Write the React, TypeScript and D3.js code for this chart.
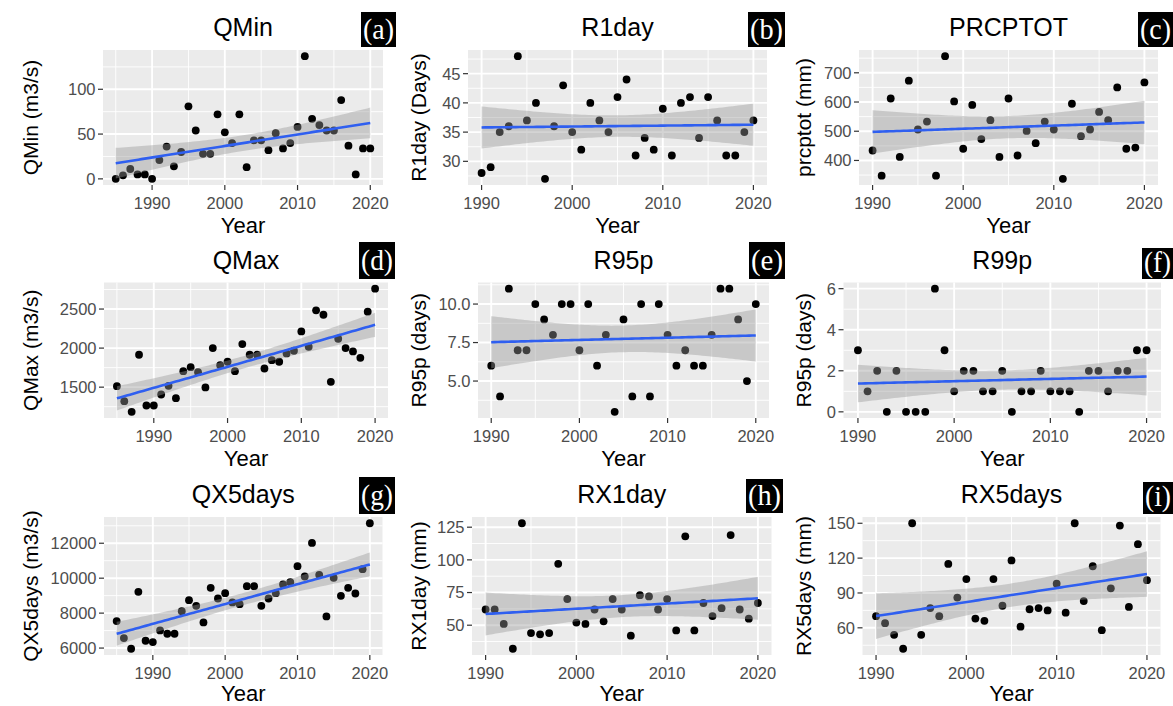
import React from 'react';
import * as d3 from 'd3';

// ---------- data ----------
const years85 = [1985,1986,1987,1988,1989,1990,1991,1992,1993,1994,1995,1996,1997,1998,1999,2000,2001,2002,2003,2004,2005,2006,2007,2008,2009,2010,2011,2012,2013,2014,2015,2016,2017,2018,2019,2020];
const years90 = [1990,1991,1992,1993,1994,1995,1996,1997,1998,1999,2000,2001,2002,2003,2004,2005,2006,2007,2008,2009,2010,2011,2012,2013,2014,2015,2016,2017,2018,2019,2020];

const qmin = [0,4,11,5,5,0,21,36,14,30,81,54,28,28,72,52,40,72,13,43,43,32,51,34,40,58,137,67,60,54,54,88,37,5,34,34];
const r1day = [28,29,35,36,48,37,40,27,36,43,35,32,40,37,35,41,44,31,34,32,39,31,40,41,34,41,37,31,31,35,37];
const prcptot = [434,348,612,412,673,506,533,348,757,602,440,590,473,538,412,612,417,501,459,533,506,337,594,483,506,566,538,650,440,444,667];
const qmax = [1513,1321,1184,1915,1265,1265,1406,1517,1359,1705,1756,1692,1496,2000,1782,1825,1705,2051,1915,1915,1739,1846,1825,1932,1966,2214,2017,2483,2427,1568,2120,2000,1957,1876,2466,2761];
const r95p = [6,4,11,7,7,10,9,8,10,10,7,10,6,8,3,9,4,10,4,10,8,6,7,6,6,8,11,11,9,5,10];
const r99p = [3,1,2,0,2,0,0,0,6,3,1,2,2,1,1,2,0,1,1,2,1,1,1,0,2,2,1,2,2,3,3];
const qx5days = [7543,6571,5962,9219,6419,6343,7010,6819,6819,8114,8743,8419,7467,9448,8838,9143,8610,8514,9543,9543,8419,8838,9143,9638,9771,10686,10095,12019,10190,7810,10019,8990,9448,9124,10514,13143];
const rx1day = [62,62,51,32,128,44,43,44,97,70,52,51,62,53,70,62,42,73,72,62,70,46,118,46,67,57,63,119,62,55,67];
const rx5days = [70,64,54,42,150,54,77,70,115,86,102,68,66,102,79,118,61,76,77,75,98,73,150,83,113,58,94,148,78,132,101];

const xTicks = [1990, 2000, 2010, 2020];
const titles = ['QMin','R1day','PRCPTOT','QMax','R95p','R99p','QX5days','RX1day','RX5days'];
const yLabels = ['QMin (m3/s)','R1day (Days)','prcptot (mm)','QMax (m3/s)','R95p (days)','R95p (days)','QX5days (m3/s)','RX1day (mm)','RX5days (mm)'];
const tags = ['(a)','(b)','(c)','(d)','(e)','(f)','(g)','(h)','(i)'];
const yTickSets = [[0,50,100],[30,35,40,45],[400,500,600,700],[1500,2000,2500],[5,7.5,10],[0,2,4,6],[6000,8000,10000,12000],[50,75,100,125],[60,90,120,150]];
const yFormats = ['d','d','d','d','.1f','d','d','d','d'];
const xSeries = [years85, years90, years90, years85, years90, years90, years85, years90, years90];
const ySeries = [qmin, r1day, prcptot, qmax, r95p, r99p, qx5days, rx1day, rx5days];

// ---------- layout ----------
const W = 1173, H = 706;
const plotRects = [
  [103, 383, 50, 185], [468, 767, 50, 185], [859, 1158, 50, 185],
  [104, 388, 282.5, 418], [478, 769, 282.5, 418], [843.5, 1161, 282.5, 418],
  [104, 382.5, 517, 655], [472, 771.5, 517, 655], [862.5, 1160.5, 517, 655],
];
const tagBoxes = [
  [361, 12, 35, 35], [748, 12, 37, 35], [1138, 12, 35, 35],
  [359, 242, 36, 37], [749, 242, 36, 37], [1142, 248, 31, 31],
  [359, 477, 36, 37], [746, 479, 37, 34], [1143, 482, 30, 32],
];
const yTitleX = [30, 418, 803];
const xTitleGap = [48, 48, 45.5];

const tVal = (df: number) => (df >= 34 ? 2.032 : 2.045);

function fitLm(xs: number[], ys: number[]) {
  const n = xs.length;
  const mx = d3.mean(xs)!, my = d3.mean(ys)!;
  let sxx = 0, sxy = 0;
  xs.forEach((x, i) => { sxx += (x - mx) ** 2; sxy += (x - mx) * (ys[i] - my); });
  const b = sxy / sxx, a = my - b * mx;
  let sse = 0;
  xs.forEach((x, i) => { sse += (ys[i] - (a + b * x)) ** 2; });
  const s = Math.sqrt(sse / (n - 2));
  const t = tVal(n - 2);
  const [x0, x1] = d3.extent(xs) as [number, number];
  const pts = d3.range(80).map(k => {
    const x = x0 + (x1 - x0) * k / 79;
    const yh = a + b * x;
    const se = s * Math.sqrt(1 / n + (x - mx) ** 2 / sxx);
    return { x, y: yh, lo: yh - t * se, hi: yh + t * se };
  });
  return pts;
}

function Panel({ i }: { i: number }) {
  const [px0, px1, py0, py1] = plotRects[i];
  const xs = xSeries[i], ys = ySeries[i];
  const [xmin, xmax] = d3.extent(xs) as [number, number];
  const [ymin, ymax] = d3.extent(ys) as [number, number];
  const xe = (xmax - xmin) * 0.05, ye = (ymax - ymin) * 0.05;
  const xScale = d3.scaleLinear().domain([xmin - xe, xmax + xe]).range([px0, px1]);
  const yScale = d3.scaleLinear().domain([ymin - ye, ymax + ye]).range([py1, py0]);
  const yTicks = yTickSets[i];
  const fmt = d3.format(yFormats[i]);
  const minors = (ticks: number[], dom: number[]) => {
    const step = ticks[1] - ticks[0];
    const out: number[] = [];
    for (let k = -1; k < ticks.length; k++) {
      const v = ticks[0] + step * (k + 0.5);
      if (v >= dom[0] && v <= dom[1]) out.push(v);
    }
    return out;
  };
  const xMin = minors(xTicks, xScale.domain());
  const yMin = minors(yTicks, yScale.domain());
  const fit = fitLm(xs, ys);
  const band = d3.area<any>().x(d => xScale(d.x)).y0(d => yScale(d.lo)).y1(d => yScale(d.hi))(fit)!;
  const line = d3.line<any>().x(d => xScale(d.x)).y(d => yScale(d.y))(fit)!;
  const cx = (px0 + px1) / 2, cy = (py0 + py1) / 2;
  const col = i % 3;
  const row = Math.floor(i / 3);
  const [bx, by, bw, bh] = tagBoxes[i];
  return (
    <g>
      <rect x={px0} y={py0} width={px1 - px0} height={py1 - py0} fill="#EBEBEB" />
      {xMin.map(v => <line key={'xm' + v} x1={xScale(v)} x2={xScale(v)} y1={py0} y2={py1} stroke="#fff" strokeWidth={0.9} />)}
      {yMin.map(v => <line key={'ym' + v} x1={px0} x2={px1} y1={yScale(v)} y2={yScale(v)} stroke="#fff" strokeWidth={0.9} />)}
      {xTicks.map(v => <line key={'xM' + v} x1={xScale(v)} x2={xScale(v)} y1={py0} y2={py1} stroke="#fff" strokeWidth={1.9} />)}
      {yTicks.map(v => <line key={'yM' + v} x1={px0} x2={px1} y1={yScale(v)} y2={yScale(v)} stroke="#fff" strokeWidth={1.9} />)}
      {xs.map((x, k) => <circle key={'p' + k} cx={xScale(x)} cy={yScale(ys[k])} r={3.9} fill="#000" />)}
      <path d={band} fill="#999999" fillOpacity={0.42} />
      <path d={line} fill="none" stroke="#2F5FF0" strokeWidth={2.6} />
      {xTicks.map(v => <line key={'xt' + v} x1={xScale(v)} x2={xScale(v)} y1={py1} y2={py1 + 5} stroke="#333" strokeWidth={1.2} />)}
      {yTicks.map(v => <line key={'yt' + v} x1={px0 - 5} x2={px0} y1={yScale(v)} y2={yScale(v)} stroke="#333" strokeWidth={1.2} />)}
      {xTicks.map(v => <text key={'xl' + v} x={xScale(v)} y={py1 + 23.5} textAnchor="middle" fontSize={16.5} fill="#4D4D4D">{v}</text>)}
      {yTicks.map(v => <text key={'yl' + v} x={px0 - 7.5} y={yScale(v)} dy="0.36em" textAnchor="end" fontSize={16.5} fill="#4D4D4D">{fmt(v)}</text>)}
      <text x={cx} y={py1 + xTitleGap[row]} textAnchor="middle" fontSize={22} fill="#000">Year</text>
      <text transform={`translate(${yTitleX[col]},${cy}) rotate(-90)`} textAnchor="middle" dy="0.36em" fontSize={21} fill="#000">{yLabels[i]}</text>
      <text x={cx} y={py0 - 14} textAnchor="middle" fontSize={25} fill="#000">{titles[i]}</text>
      <rect x={bx} y={by} width={bw} height={bh} fill="#000" />
      <text x={bx + 2} y={by + bh * 0.76} fontSize={29} fill="#fff" fontFamily="'Liberation Serif', 'Times New Roman', serif" textLength={bw - 4} lengthAdjust="spacingAndGlyphs">{tags[i]}</text>
    </g>
  );
}

export default function App() {
  return (
    <svg width={W} height={H} style={{ position: 'absolute', left: 0, top: 0, background: '#fff' }} fontFamily="Arial, 'Liberation Sans', Helvetica, sans-serif">
      <rect width={W} height={H} fill="#fff" />
      {titles.map((_, i) => <Panel key={i} i={i} />)}
    </svg>
  );
}
